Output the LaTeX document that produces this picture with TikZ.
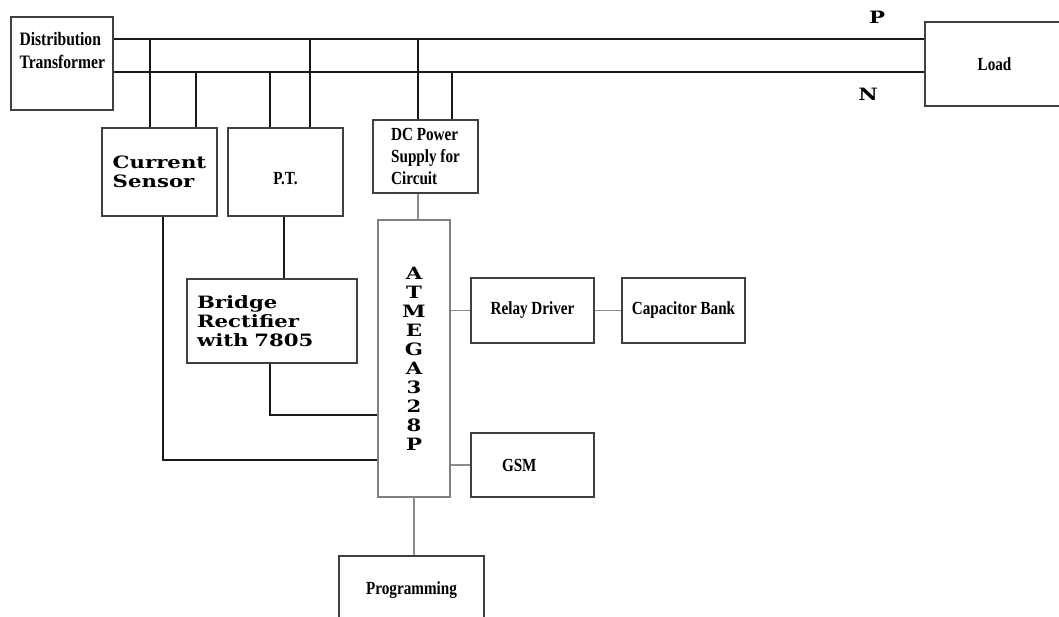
\documentclass[tikz,border=0pt]{standalone}
\usepackage{fontspec}
\setmainfont{Liberation Serif}
\newfontfamily\narrowbf{Liberation Serif}[FakeStretch=0.82]
\newfontfamily\widebf{DejaVu Serif}[FakeStretch=1.25]
\usetikzlibrary{positioning}

\begin{document}
\begin{tikzpicture}[
  x=1pt, y=-1pt,
  box/.style={rectangle, draw=black!75, line width=1.3pt, inner sep=0pt,
              font=\narrowbf\bfseries\fontsize{18.5}{22}\selectfont},
  wbox/.style={box, font=\widebf\bfseries\fontsize{17}{19}\selectfont},
  lbl/.style={inner sep=0pt, font=\narrowbf\bfseries\fontsize{19}{23}\selectfont, align=left},
  wlbl/.style={inner sep=0pt, font=\widebf\bfseries\fontsize{17}{19}\selectfont},
  wire/.style={line width=1.2pt, black!90},
  gwire/.style={line width=1.8pt, black!45},
]
\clip (0,0) rectangle (1059,616);
% --- supply side ---
\node[box, minimum width=102, minimum height=93,
  label={[lbl, anchor=north west, xshift=9pt, yshift=-16pt]north west:Distribution\\Transformer}]
  (dt) at (62,63.5) {};
\node[box, minimum width=139, minimum height=84] (load) at (994.5,64) {Load};
\coordinate (pbus) at (0,39);
\coordinate (nbus) at (0,72);
\node[wlbl] (plbl) at (877,17) {P};
\node[wlbl] (nlbl) at (868,94) {N};
% --- sensing and supply blocks ---
\node[wbox, minimum width=115, minimum height=88, align=left] (cs) at (159.5,172) {Current\\Sensor};
\node[box, minimum width=115, minimum height=88, text height=24pt, text depth=0pt] (pt) at (285.5,172) {P.T.};
\node[box, minimum width=105, minimum height=73, align=left] (dc) at (425.5,156.5)
  {DC Power\\Supply for\\Circuit};
\node[wbox, minimum width=170, minimum height=84, text width=150pt, align=left] (br) at (272,321)
  {Bridge\\Rectifier\\with 7805};
% --- controller and outputs ---
\node[wbox, draw=black!50, minimum width=72, minimum height=277, align=center] (mcu) at (414,358.5)
  {A\\T\\M\\E\\G\\A\\3\\2\\8\\P};
\node[box, minimum width=123, minimum height=65] (relay) at (532.5,310.5) {Relay Driver};
\node[box, minimum width=123, minimum height=65] (cap) at (683.5,310.5) {Capacitor Bank};
\node[box, minimum width=123, minimum height=64, text width=61pt, align=left] (gsm) at (532.5,465) {GSM};
\node[box, minimum width=145, minimum height=68] (prog) at (411.5,590) {Programming};
% --- bus lines ---
\draw[wire] (dt.east |- pbus) -- (load.west |- pbus);
\draw[wire] (dt.east |- nbus) -- (load.west |- nbus);
% --- taps ---
\draw[wire] ([xshift=-9.5pt]cs.north) -- ([xshift=-9.5pt]cs.north |- pbus);
\draw[wire] ([xshift=36.5pt]cs.north) -- ([xshift=36.5pt]cs.north |- nbus);
\draw[wire] ([xshift=-15.5pt]pt.north) -- ([xshift=-15.5pt]pt.north |- nbus);
\draw[wire] ([xshift=24.5pt]pt.north) -- ([xshift=24.5pt]pt.north |- pbus);
\draw[wire] ([xshift=-7.5pt]dc.north) -- ([xshift=-7.5pt]dc.north |- pbus);
\draw[wire] ([xshift=26.5pt]dc.north) -- ([xshift=26.5pt]dc.north |- nbus);
% --- signal flow ---
\draw[gwire] ([xshift=-7.5pt]dc.south) -- ([xshift=-7.5pt]dc.south |- mcu.north);
\draw[wire] ([xshift=-1.5pt]pt.south) -- ([xshift=-1.5pt]pt.south |- br.north);
\draw[wire] ([xshift=-2pt]br.south) |- ([yshift=-56.5pt]mcu.west);
\draw[wire] ([xshift=3.5pt]cs.south) |- ([yshift=-101.5pt]mcu.west);
\draw[gwire] (mcu.east |- relay.west) -- (relay.west);
\draw[gwire] (relay) -- (cap);
\draw[gwire] (mcu.east |- gsm.west) -- (gsm.west);
\draw[gwire] (mcu.south) -- (mcu.south |- prog.north);
\end{tikzpicture}
\end{document}
